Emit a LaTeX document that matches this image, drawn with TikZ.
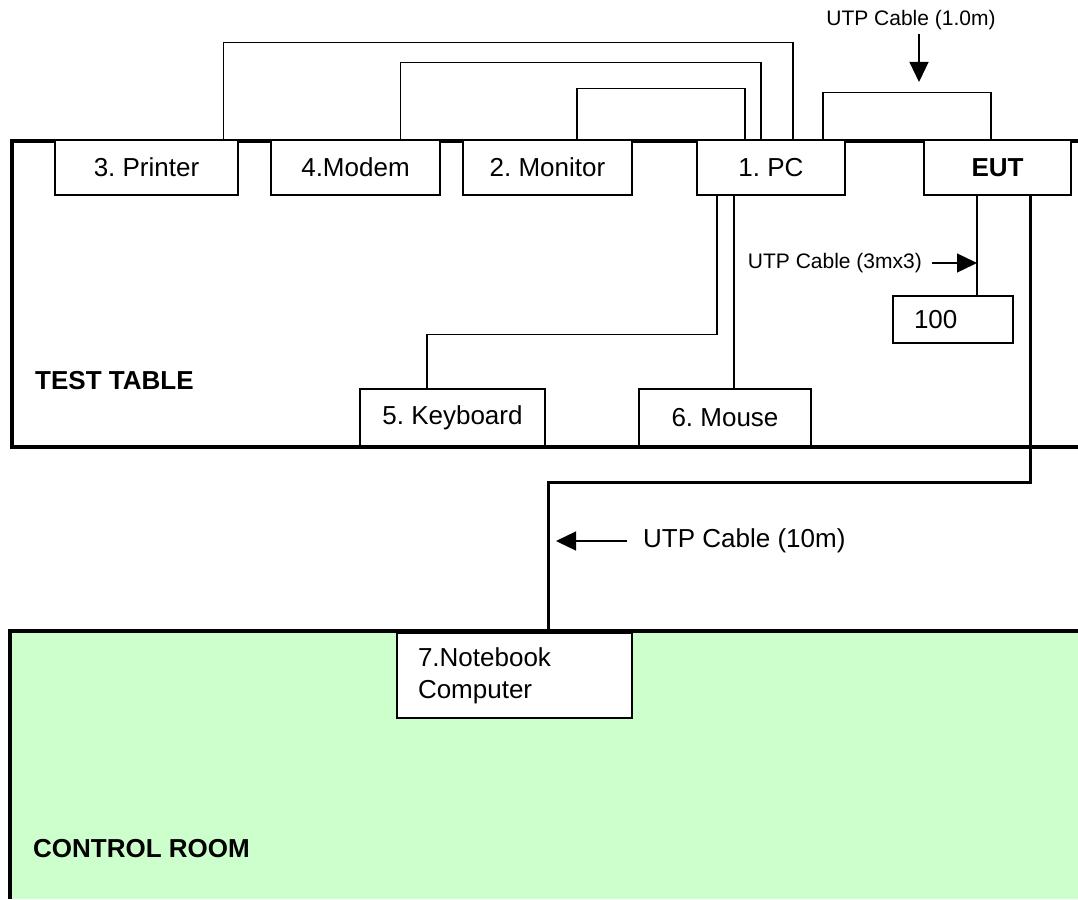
\documentclass[tikz,border=0pt]{standalone}
\usepackage{fontspec}
\setmainfont{Liberation Sans}
\usetikzlibrary{arrows.meta,positioning}
\definecolor{roomgreen}{HTML}{CCFFCC}
\frenchspacing

\begin{document}
\begin{tikzpicture}[x=1pt,y=-1pt,
box/.style={draw,fill=white,line width=1.3pt,inner sep=0,minimum height=55,font=\fontsize{26}{32}\selectfont},
cable/.style={line width=1.3pt},
wall/.style={line width=4pt},
arr/.style={-{Triangle[length=20pt,width=19pt]},line width=1.3pt},
lab/.style={inner sep=0,font=\fontsize{21}{25}\selectfont},
big/.style={inner sep=0,anchor=west,font=\fontsize{26}{30}\selectfont\bfseries}]
\useasboundingbox (0,0) rectangle (1078,899);
% rooms
\fill[roomgreen] (12,631) rectangle (1078,899);
\draw[wall] (1078,141) -- (12,141) -- (12,447) -- (1078,447);
\draw[wall] (1078,631) -- (10,631) -- (10,899);
% devices on the test table
\node[box,minimum width=183] (printer) at (146.5,167.5) {3. Printer};
\node[box,minimum width=169] (modem) at (355.5,167.5) {4.Modem};
\node[box,minimum width=169] (monitor) at (547.5,167.5) {2. Monitor};
\node[box,minimum width=148] (pc) at (771,167.5) {1. PC};
\node[box,minimum width=147,font=\fontsize{26}{32}\selectfont\bfseries] (eut) at (997.5,167.5) {EUT};
\node[box,minimum width=120,minimum height=47,text width=78,inner xsep=21,align=left] (hub) at (953,319.5) {100};
\node[box,minimum width=185,minimum height=57] (keyboard) at (452.5,417.5) {5. Keyboard};
\node[box,minimum width=172,minimum height=57] (mouse) at (725,417.5) {6. Mouse};
\node[box,minimum width=235,minimum height=85,text width=193,inner xsep=21,align=left] (notebook) at (514.5,675.5) {7.Notebook\\Computer};
\node[big] (table) at (35,381) {TEST TABLE};
\node[big] (room) at (33,849) {CONTROL ROOM};
% cables
\draw[cable] ([xshift=-15]printer.north east) -- ++(0,-97) -| ([xshift=22]pc.north);
\draw[cable] ([xshift=45]modem.north) -- ++(0,-77) -| ([xshift=-10]pc.north);
\draw[cable] ([xshift=29.5]monitor.north) -- ++(0,-51) -| ([xshift=-26]pc.north);
\draw[cable] ([xshift=52]pc.north) -- ++(0,-47) -| ([xshift=-6.5]eut.north);
\draw[cable] ([xshift=-54]pc.south) -- ++(0,139) -| ([xshift=-25.5]keyboard.north);
\draw[cable] ([xshift=-37]pc.south) -- ([xshift=9]mouse.north);
\draw[cable] ([xshift=-20.5]eut.south) -- ([xshift=24]hub.north);
\draw[line width=3pt] ([xshift=32.5]eut.south) -- ++(0,287) -| ([xshift=33.5]notebook.north);
% cable labels
\node[lab] (lab1) at (911,20) {UTP Cable (1.0m)};
\draw[arr] ([xshift=8]lab1.south) ++(0,4) -- ++(0,48);
\node[lab,anchor=east] (lab2) at (922,263) {UTP Cable (3mx3)};
\draw[arr] ([xshift=10]lab2.east) -- ++(45,0);
\node[lab,anchor=west,font=\fontsize{26}{30}\selectfont] (lab3) at (643,541) {UTP Cable (10m)};
\draw[arr] ([xshift=-16]lab3.west) -- ++(-71,0);
\end{tikzpicture}
\end{document}
